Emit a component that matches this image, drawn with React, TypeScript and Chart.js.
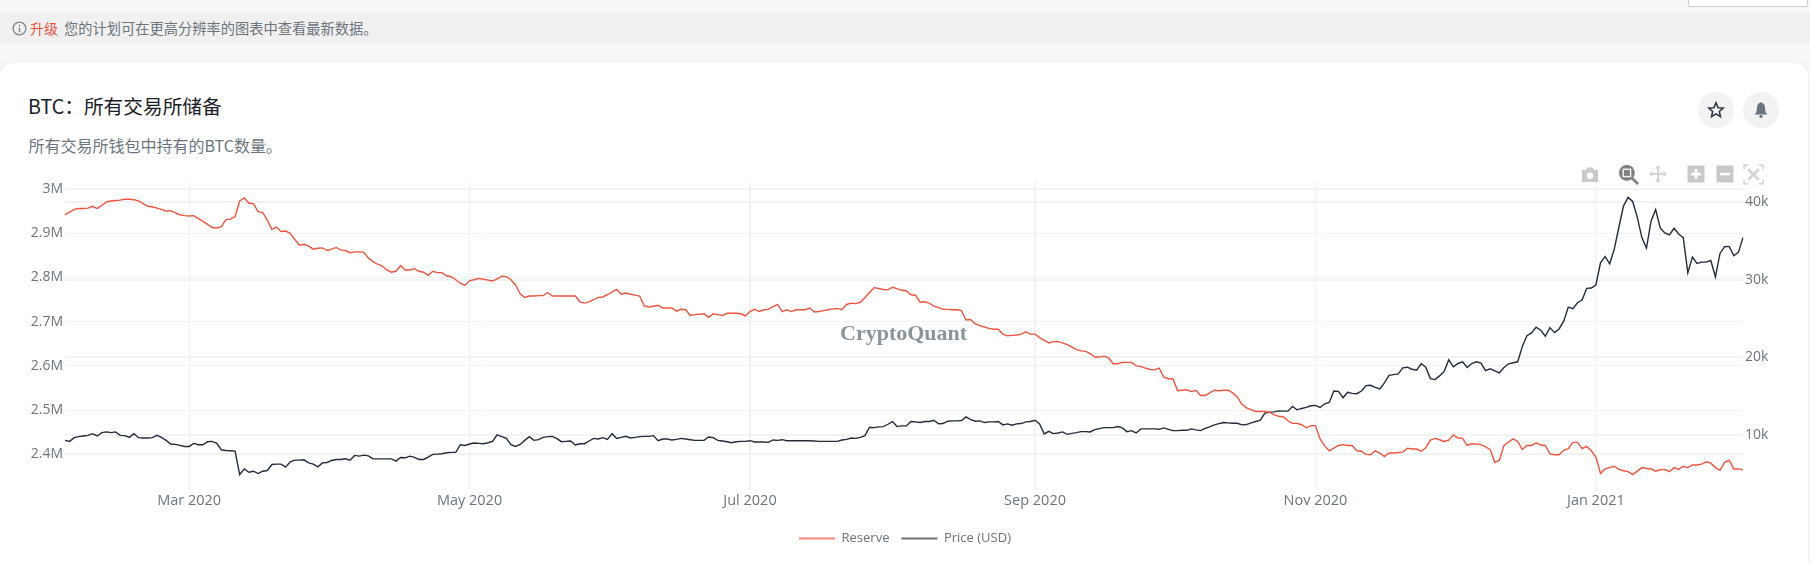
import { useEffect, useRef } from "react";
import Chart from "chart.js/auto";

const startDate = "2020-02-03";
const dayCount = 366;

const monthTicks = ["2020-03-01", "2020-05-01", "2020-07-01", "2020-09-01", "2020-11-01", "2021-01-01"];
const monthLabels = ["Mar 2020", "May 2020", "Jul 2020", "Sep 2020", "Nov 2020", "Jan 2021"];
const reserveTicks = [2400, 2500, 2600, 2700, 2800, 2900, 3000];
const priceTicks = [10000, 20000, 30000, 40000];

// thousands of BTC, one value per day
const reserve = [
  2942, 2948, 2954, 2956, 2956, 2957, 2961, 2956, 2963, 2971, 2973, 2974, 2975, 2977, 2977, 2976, 2973, 2967, 2961, 2960, 2957, 2954, 2950, 2951, 2946, 2942, 2940, 2939, 2940, 2933, 2927, 2920, 2913, 2912, 2915, 2931, 2932, 2938, 2973, 2980, 2968, 2967, 2949, 2947, 2930, 2909, 2914, 2904, 2905, 2900, 2886, 2873, 2875, 2871, 2864, 2866, 2867, 2861, 2864, 2868, 2862, 2861,
  2856, 2858, 2858, 2857, 2844, 2836, 2830, 2826, 2817, 2812, 2814, 2827, 2817, 2817, 2820, 2814, 2812, 2805, 2814, 2811, 2811, 2804, 2802, 2795, 2787, 2782, 2793, 2795, 2798, 2796, 2794, 2792, 2797, 2803, 2802, 2795, 2783, 2763, 2755, 2758, 2758, 2759, 2759, 2766, 2758, 2758, 2758, 2758, 2758, 2758, 2745, 2742, 2745, 2750, 2755, 2756, 2761, 2767, 2773, 2762,
  2765, 2762, 2760, 2758, 2736, 2733, 2735, 2737, 2731, 2731, 2731, 2724, 2728, 2727, 2714, 2716, 2717, 2718, 2710, 2718, 2716, 2714, 2719, 2719, 2719, 2718, 2713, 2723, 2728, 2723, 2727, 2728, 2734, 2739, 2723, 2727, 2723, 2727, 2727, 2727, 2731, 2722, 2723, 2725, 2727, 2729, 2730, 2727, 2739, 2742, 2741, 2744, 2754, 2766, 2777, 2775, 2773, 2772, 2778, 2775, 2771,
  2770, 2761, 2760, 2744, 2745, 2742, 2735, 2732, 2728, 2728, 2727, 2727, 2725, 2704, 2705, 2695, 2691, 2688, 2685, 2683, 2683, 2672, 2668, 2669, 2670, 2672, 2677, 2672, 2672, 2664, 2658, 2652, 2655, 2655, 2652, 2648, 2643, 2637, 2634, 2633, 2628, 2620, 2620, 2622, 2618, 2605, 2605, 2608, 2608, 2608, 2600, 2599, 2595, 2592, 2591, 2595, 2575, 2571, 2571, 2544, 2545,
  2546, 2542, 2545, 2533, 2533, 2539, 2545, 2544, 2545, 2545, 2539, 2530, 2513, 2505, 2501, 2497, 2497, 2497, 2495, 2490, 2486, 2485, 2476, 2470, 2470, 2467, 2460, 2465, 2465, 2435, 2419, 2408, 2414, 2420, 2422, 2420, 2420, 2408, 2407, 2400, 2399, 2408, 2403, 2395, 2403, 2403, 2404, 2405, 2414, 2412, 2412, 2407, 2415, 2432, 2436, 2433, 2429, 2432, 2444, 2437, 2436,
  2420, 2424, 2423, 2422, 2417, 2411, 2382, 2386, 2420, 2428, 2435, 2429, 2411, 2420, 2420, 2426, 2421, 2420, 2401, 2399, 2399, 2409, 2413, 2427, 2427, 2413, 2418, 2408, 2394, 2357, 2367, 2370, 2373, 2366, 2363, 2361, 2354, 2362, 2370, 2368, 2367, 2362, 2365, 2366, 2361, 2370, 2366, 2373, 2370, 2376, 2376, 2378, 2383, 2380, 2370, 2364, 2382, 2387, 2367, 2367, 2365,
];

// USD, one value per day
const price = [
  9260, 9130, 9610, 9740, 9830, 9910, 10130, 9830, 10260, 10350, 10260, 10350, 9910, 9870, 9650, 10130, 9610, 9570, 9570, 9610, 9910, 9650, 9260, 8790, 8740, 8610, 8480, 8480, 8870, 8700, 8700, 9090, 9130, 8870, 8050, 7960, 7920, 7880, 4850, 5580, 5150, 5280, 4980, 5280, 5370, 6150, 6190, 6190, 5800, 6490, 6710, 6710, 6750, 6360, 6190, 5840, 6360, 6410, 6670, 6800, 6800, 6880,
  6710, 7320, 7230, 7360, 7270, 6880, 6880, 6880, 6880, 6880, 6580, 7060, 7010, 7230, 7060, 6800, 6800, 7100, 7450, 7490, 7530, 7660, 7710, 7710, 8700, 8610, 8790, 8920, 8870, 8830, 8960, 9130, 9960, 9740, 9520, 8700, 8480, 8740, 9260, 9740, 9260, 9350, 9650, 9740, 9780, 9480, 9090, 9130, 9180, 8660, 8830, 8830, 9180, 9520, 9440, 9610, 9390, 10130, 9520, 9650,
  9780, 9570, 9650, 9740, 9780, 9780, 9870, 9220, 9440, 9440, 9310, 9390, 9520, 9440, 9350, 9260, 9260, 9260, 9700, 9610, 9260, 9180, 9090, 8960, 9090, 9130, 9130, 9220, 9050, 9050, 9050, 9000, 9310, 9260, 9350, 9220, 9220, 9220, 9220, 9220, 9220, 9180, 9130, 9130, 9130, 9130, 9130, 9310, 9390, 9570, 9520, 9650, 9870, 10950, 10910, 11000, 11040, 11340, 11690, 11040, 11130,
  11130, 11690, 11650, 11560, 11690, 11690, 11860, 11390, 11430, 11730, 11780, 11780, 11820, 12290, 11950, 11730, 11780, 11560, 11650, 11650, 11690, 11260, 11390, 11210, 11390, 11430, 11650, 11690, 11860, 11390, 10090, 10430, 10130, 10220, 10350, 10040, 10170, 10260, 10390, 10390, 10350, 10650, 10780, 10910, 10910, 10910, 11040, 10870, 10390, 10520, 10220, 10740, 10740, 10740, 10740, 10690, 10870, 10690, 10520, 10520, 10560,
  10560, 10740, 10610, 10520, 10820, 11000, 11260, 11430, 11560, 11520, 11470, 11470, 11260, 11300, 11520, 11690, 11860, 12770, 12900, 12940, 13070, 13030, 13030, 13640, 13200, 13380, 13510, 13720, 13770, 13510, 13980, 14160, 15630, 15590, 14760, 15460, 15330, 15280, 15630, 16320, 16370, 16110, 15890, 16670, 17660, 17750, 17840, 18620, 18700, 18440, 18310, 19140, 18700, 17230, 17100, 17580, 18180, 19660, 18750, 19180, 19400,
  18660, 19180, 19400, 19220, 18270, 18490, 18230, 17970, 18660, 19140, 19270, 19400, 21390, 22770, 23120, 23860, 23470, 22690, 23810, 23160, 23640, 24640, 26450, 26240, 27020, 27360, 28880, 28920, 29310, 32170, 32990, 32040, 33940, 36760, 39490, 40610, 40090, 38060, 35420, 34070, 37540, 39050, 36670, 36020, 35760, 36630, 35890, 35420, 30870, 32910, 32080, 32260, 32260, 32470, 30350, 33380, 34250, 34290, 33080, 33510, 35420,
];

const dates: string[] = [];
for (let i = 0; i < dayCount; i++) {
  const d = new Date(startDate + "T00:00:00Z");
  d.setUTCDate(d.getUTCDate() + i);
  dates.push(d.toISOString().slice(0, 10));
}

const tickColor = "#6c757d";
const gridColor = "#f2f2f2";
const cjk = '"Noto Sans CJK SC", "Noto Sans", sans-serif';

const legendLabels = [
  { text: "Reserve", color: "#f2897c" },
  { text: "Price (USD)", color: "#6d7278" },
];

const abs = (left: number, top: number): React.CSSProperties => ({ position: "absolute", left, top });

const Icon = ({ x, y, size, children }: { x: number; y: number; size: number; children: React.ReactNode }) => (
  <svg style={abs(x - size / 2, y - size / 2)} width={size} height={size} viewBox="0 0 20 20">
    {children}
  </svg>
);

export default function App() {
  const chartRef = useRef<HTMLCanvasElement | null>(null);

  useEffect(() => {
    document.body.style.margin = "0";
    if (!chartRef.current) return;

    const chart = new Chart(chartRef.current, {
      type: "line",
      data: {
        labels: dates,
        datasets: [
          { label: "Reserve", data: reserve, yAxisID: "y", borderColor: "#ee5540", borderWidth: 1.4, pointRadius: 0 },
          { label: "Price (USD)", data: price, yAxisID: "y1", borderColor: "#222c3a", borderWidth: 1.4, pointRadius: 0 },
        ],
      },
      options: {
        responsive: false,
        animation: false,
        layout: { padding: { top: 182, bottom: 7 } },
        plugins: {
          tooltip: { enabled: false },
          legend: {
            position: "bottom",
            labels: {
              boxWidth: 36,
              boxHeight: 2,
              padding: 12,
              color: tickColor,
              font: { family: "Open Sans", size: 13 },
              generateLabels: () =>
                legendLabels.map((l, i) => ({
                  text: l.text,
                  fillStyle: l.color,
                  strokeStyle: l.color,
                  lineWidth: 0,
                  fontColor: tickColor,
                  datasetIndex: i,
                })),
            },
          },
        },
        scales: {
          x: {
            type: "category",
            offset: false,
            border: { display: false },
            grid: { color: gridColor, drawTicks: false, lineWidth: (c: any) => ([149, 211].includes(c.tick?.value) ? 2 : 1) },
            ticks: {
              autoSkip: false,
              maxRotation: 0,
              padding: 3,
              color: tickColor,
              font: { family: "Open Sans", size: 14.5 },
              callback: (v: any) => monthLabels[monthTicks.indexOf(dates[v])],
            },
            afterBuildTicks: (s: any) => {
              s.ticks = monthTicks.map(m => ({ value: dates.indexOf(m) }));
            },
            afterFit: (s: any) => {
              s.height = 31;
            },
          },
          y: {
            position: "left",
            min: 2321.6,
            max: 3016,
            border: { display: false },
            grid: { color: gridColor, drawTicks: false, lineWidth: (c: any) => ([2400, 3000].includes(c.tick?.value) ? 2 : 1) },
            ticks: {
              padding: 2,
              color: tickColor,
              font: { family: "Open Sans", size: 14 },
              callback: (v: any) => `${v / 1000}M`,
            },
            afterBuildTicks: (s: any) => {
              s.ticks = reserveTicks.map(value => ({ value }));
            },
            afterFit: (s: any) => {
              s.width = 65;
            },
          },
          y1: {
            position: "right",
            min: 2987,
            max: 42597,
            border: { display: false },
            grid: { color: gridColor, drawTicks: false, lineWidth: 2 },
            ticks: {
              padding: 2,
              color: tickColor,
              font: { family: "Open Sans", size: 14 },
              callback: (v: any) => `${v / 1000}k`,
            },
            afterBuildTicks: (s: any) => {
              s.ticks = priceTicks.map(value => ({ value }));
            },
            afterFit: (s: any) => {
              s.width = 67;
            },
          },
        },
      },
    });

    return () => {
      chart.destroy();
    };
  }, []);

  return (
    <div style={{ position: "relative", width: 1810, height: 562, background: "#f8f7f5", overflow: "hidden", fontFamily: cjk }}>
      <div style={{ ...abs(1688, -4), width: 118, height: 9, background: "#fff", border: "1px solid #cfcfcf", borderRadius: 2 }} />

      <div style={{ ...abs(0, 13), width: 1810, height: 31, background: "#f0f0f0" }} />
      <Icon x={19} y={28} size={15}>
        <circle cx="10" cy="10" r="8.5" fill="none" stroke="#80868c" strokeWidth="1.8" />
        <rect x="9" y="9" width="2" height="6" fill="#80868c" />
        <rect x="9" y="5.2" width="2" height="2" fill="#80868c" />
      </Icon>
      <div style={{ ...abs(30, 18), fontSize: 14, lineHeight: "20px", whiteSpace: "nowrap", color: "#6c757d" }}>
        <span style={{ color: "#f0503c", marginRight: 6 }}>升级</span>
        <span style={{ fontSize: 14.25 }}>您的计划可在更高分辨率的图表中查看最新数据。</span>
      </div>

      <div style={{ ...abs(0, 63), width: 1808, height: 520, background: "#fff", borderRadius: 14, boxShadow: "0 0 6px rgba(0,0,0,0.04)" }} />
      <div style={{ ...abs(28, 93), fontSize: 19.7, lineHeight: "26px", color: "#1a2029", whiteSpace: "nowrap" }}>BTC：所有交易所储备</div>
      <div style={{ ...abs(28.5, 133), fontSize: 16, lineHeight: "24px", color: "#6c757d", whiteSpace: "nowrap" }}>所有交易所钱包中持有的BTC数量。</div>

      <div style={{ ...abs(1698, 92), width: 36, height: 36, borderRadius: 18, background: "#f2f2f2" }} />
      <div style={{ ...abs(1743, 92), width: 36, height: 36, borderRadius: 18, background: "#f2f2f2" }} />
      <Icon x={1716} y={110} size={18}>
        <path d="M10 2 L12.3 7.4 L18 7.9 L13.7 11.7 L15 17.5 L10 14.4 L5 17.5 L6.3 11.7 L2 7.9 L7.7 7.4 Z" fill="none" stroke="#2b3442" strokeWidth="1.7" />
      </Icon>
      <Icon x={1761} y={110} size={18}>
        <path d="M10 1.5 C6.5 2.5 5.5 5 5.5 8 C5.5 11.5 4.5 13 3 15 L17 15 C15.5 13 14.5 11.5 14.5 8 C14.5 5 13.5 2.5 10 1.5 Z" fill="#6c757d" />
        <circle cx="10" cy="17.2" r="1.8" fill="#6c757d" />
      </Icon>

      <canvas ref={chartRef} width={1810} height={562} style={{ ...abs(0, 0), display: "block" }} />

      <div style={{ ...abs(840, 318), fontFamily: '"Liberation Serif", serif', fontWeight: 700, fontSize: 22, lineHeight: "30px", color: "#8a949c", whiteSpace: "nowrap" }}>CryptoQuant</div>

      <Icon x={1590} y={175} size={20}>
        <path d="M2 5 L6 5 L7.5 2.5 L12.5 2.5 L14 5 L18 5 L18 17 L2 17 Z" fill="#c9c9c9" />
        <circle cx="10" cy="10.8" r="3.2" fill="#fff" />
      </Icon>
      <Icon x={1628} y={174} size={21}>
        <circle cx="8.5" cy="8.5" r="7.5" fill="#7f7f7f" />
        <rect x="5" y="5" width="7" height="7" fill="#7f7f7f" stroke="#f2f2f2" strokeWidth="1.4" />
        <path d="M13.5 13.5 L19 19" stroke="#7f7f7f" strokeWidth="2.6" />
      </Icon>
      <Icon x={1658} y={174} size={20}>
        <path d="M10 1 L13 4.5 L11 4.5 L11 9 L15.5 9 L15.5 7 L19 10 L15.5 13 L15.5 11 L11 11 L11 15.5 L13 15.5 L10 19 L7 15.5 L9 15.5 L9 11 L4.5 11 L4.5 13 L1 10 L4.5 7 L4.5 9 L9 9 L9 4.5 L7 4.5 Z" fill="#d4d4d4" />
      </Icon>
      <Icon x={1696} y={174} size={20}>
        <rect x="1.5" y="1.5" width="17" height="17" fill="#c9c9c9" />
        <rect x="5" y="8.8" width="10" height="2.6" fill="#fff" />
        <rect x="8.7" y="5" width="2.6" height="10" fill="#fff" />
      </Icon>
      <Icon x={1725} y={174} size={20}>
        <rect x="1.5" y="1.5" width="17" height="17" fill="#c9c9c9" />
        <rect x="5" y="8.8" width="10" height="2.6" fill="#fff" />
      </Icon>
      <Icon x={1753} y={174} size={21}>
        <path d="M5 1 L1 1 L1 5 M15 1 L19 1 L19 5 M5 19 L1 19 L1 15 M15 19 L19 19 L19 15" fill="none" stroke="#c9c9c9" strokeWidth="1.2" />
        <path d="M5 5 L15 15 M15 5 L5 15" stroke="#d4d4d4" strokeWidth="2.4" />
      </Icon>
    </div>
  );
}
